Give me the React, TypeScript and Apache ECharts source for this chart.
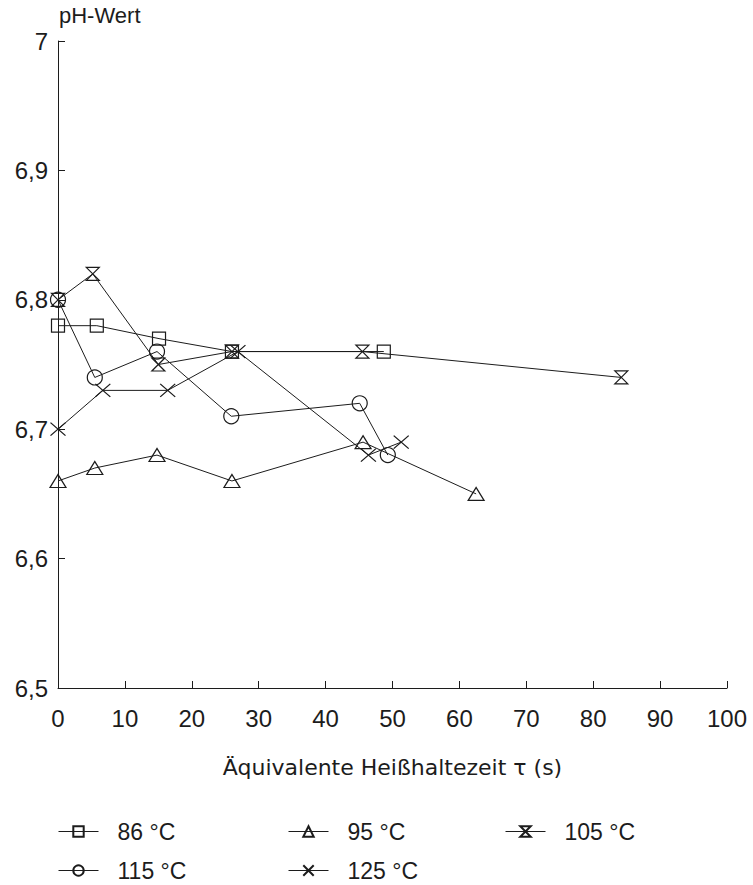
import React, { useEffect, useRef } from "react";
import * as echarts from "echarts";

const seriesNames = ["86 °C", "95 °C", "105 °C", "115 °C", "125 °C"];

const x86 = [0, 5.8, 15.1, 26, 48.7];
const y86 = [6.78, 6.78, 6.77, 6.76, 6.76];

const x95 = [0, 5.5, 14.8, 26, 45.6, 62.5];
const y95 = [6.66, 6.67, 6.68, 6.66, 6.69, 6.65];

const x105 = [0, 5.2, 15, 26, 45.5, 84.2];
const y105 = [6.8, 6.82, 6.75, 6.76, 6.76, 6.74];

const x115 = [0, 5.5, 14.8, 25.9, 45.1, 49.3];
const y115 = [6.8, 6.74, 6.76, 6.71, 6.72, 6.68];

const x125 = [0, 6.7, 16.4, 26.9, 46.4, 51.3];
const y125 = [6.7, 6.73, 6.73, 6.76, 6.68, 6.69];

const yTicks = [6.5, 6.6, 6.7, 6.8, 6.9, 7];

const INK = "#1c1c1c";
const FONT = "Liberation Sans, Arial, sans-serif";
const WIDE = "DejaVu Sans, sans-serif";

const pair = (xs: number[], ys: number[]) => xs.map((x, i) => [x, ys[i]]);

export default function App() {
  const ref = useRef<HTMLDivElement>(null);
  useEffect(() => {
    if (!ref.current) return;
    const chart = echarts.init(ref.current, null, { renderer: "svg" });
    const symbols = [
      { symbol: "rect", size: [13, 13] },
      { symbol: "triangle", size: [16, 13] },
      { symbol: "path://M0,0L10,0L0,10L10,10Z", size: [13, 13] },
      { symbol: "circle", size: 15 },
      { symbol: "path://M0,0L10,10M10,0L0,10", size: [15, 13] },
    ];
    const datas = [
      pair(x86, y86),
      pair(x95, y95),
      pair(x105, y105),
      pair(x115, y115),
      pair(x125, y125),
    ];
    const legendPos = [
      { left: 53, top: 815 },
      { left: 283, top: 815 },
      { left: 500, top: 815 },
      { left: 53, top: 854 },
      { left: 283, top: 854 },
    ];
    chart.setOption({
      animation: false,
      textStyle: { fontFamily: FONT, color: INK },
      title: {
        text: "pH-Wert",
        left: 59,
        top: 4,
        padding: 0,
        textStyle: { fontFamily: FONT, fontSize: 22, fontWeight: "normal", color: INK },
      },
      grid: { left: 58, right: 26, top: 41, bottom: 197 },
      legend: seriesNames.map((n, i) => ({
        data: [n],
        left: legendPos[i].left,
        top: legendPos[i].top,
        itemWidth: 40,
        itemHeight: 13,
        lineStyle: { width: 1 },
        textStyle: { fontFamily: FONT, fontSize: 23, color: INK, padding: [0, 0, 0, 14] },
      })),
      xAxis: {
        type: "value",
        min: 0,
        max: 100,
        interval: 10,
        name: "Äquivalente Heißhaltezeit τ (s)",
        nameLocation: "middle",
        nameGap: 68,
        nameTextStyle: { fontFamily: WIDE, fontSize: 22, color: INK },
        axisLine: { lineStyle: { color: INK, width: 1 } },
        axisTick: { inside: true, length: 7, lineStyle: { color: INK } },
        axisLabel: { fontFamily: FONT, fontSize: 24, color: INK, margin: 18 },
        splitLine: { show: false },
      },
      yAxis: {
        type: "value",
        min: 6.5,
        max: 7,
        interval: 0.1,
        axisLine: { show: true, lineStyle: { color: INK, width: 1 } },
        axisTick: { show: true, inside: true, length: 7, lineStyle: { color: INK } },
        axisLabel: {
          fontFamily: FONT,
          fontSize: 24,
          color: INK,
          margin: 10,
          formatter: (v: number) => {
            const t = yTicks.find((k) => Math.abs(k - v) < 1e-6);
            if (t === undefined) return "";
            return Number.isInteger(t) ? String(t) : t.toFixed(1).replace(".", ",");
          },
        },
        splitLine: { show: false },
      },
      series: seriesNames.map((n, i) => ({
        name: n,
        type: "line",
        data: datas[i],
        symbol: symbols[i].symbol,
        symbolSize: symbols[i].size,
        showAllSymbol: true,
        lineStyle: { color: INK, width: 1 },
        itemStyle: { color: "rgba(255,255,255,0)", borderColor: INK, borderWidth: 1.2 },
        emphasis: { disabled: true },
      })),
    });
    return () => chart.dispose();
  }, []);
  return (
    <div
      ref={ref}
      style={{ position: "absolute", left: 0, top: 0, width: 753, height: 885 }}
    />
  );
}
